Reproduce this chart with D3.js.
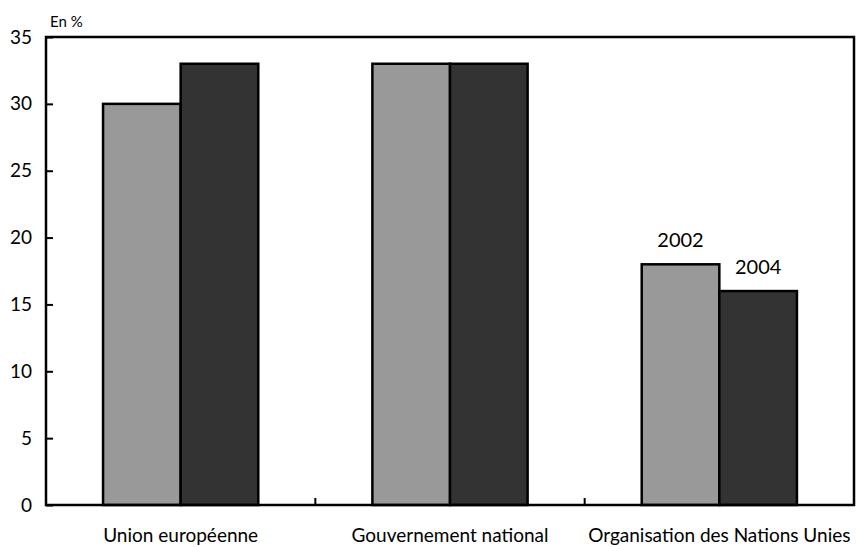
<!DOCTYPE html>
<html>
<head>
<meta charset="utf-8">
<script src="https://d3js.org/d3.v7.min.js"></script>
<style>
  body { margin: 0; background: #fff; }
  svg { font-family: Lato, "Open Sans", sans-serif; }
</style>
</head>
<body>
<svg id="chart" width="859" height="547"></svg>
<script>
const categories = ["Union européenne", "Gouvernement national", "Organisation des Nations Unies"];
const years = ["2002", "2004"];
const values2002 = [30, 33, 18];
const values2004 = [33, 33, 16];
const yTicks = [0, 5, 10, 15, 20, 25, 30, 35];

const colors = { "2002": "#999999", "2004": "#333333" };

const mLeft = 46, mRight = 854, mTop = 37, mBottom = 505;
const svg = d3.select("#chart");

const x0 = d3.scaleBand().domain(categories).range([mLeft, mRight]).padding(0);
const x1 = d3.scaleBand().domain(years).range([0, x0.bandwidth()]).paddingInner(0).paddingOuter(0.735);
const y = d3.scaleLinear().domain([0, 35]).range([mBottom, mTop]);

const rows = categories.map((c, i) => ({ cat: c, vals: [values2002[i], values2004[i]] }));

// bars
const groups = svg.selectAll("g.grp").data(rows).enter().append("g")
  .attr("class", "grp")
  .attr("transform", d => "translate(" + x0(d.cat) + ",0)");

groups.selectAll("rect")
  .data(d => years.map((yr, j) => ({ yr: yr, v: d.vals[j] })))
  .enter().append("rect")
  .attr("x", d => x1(d.yr))
  .attr("y", d => y(d.v))
  .attr("width", x1.bandwidth())
  .attr("height", d => y(0) - y(d.v))
  .attr("fill", d => colors[d.yr])
  .attr("stroke", "#000")
  .attr("stroke-width", 2.5);

// frame
svg.append("rect")
  .attr("x", mLeft).attr("y", mTop)
  .attr("width", mRight - mLeft).attr("height", mBottom - mTop)
  .attr("fill", "none").attr("stroke", "#000").attr("stroke-width", 2.5);

// y axis
const yAxis = d3.axisLeft(y).tickValues(yTicks).tickSize(-7).tickPadding(14);
svg.append("g")
  .attr("transform", "translate(" + mLeft + ",0)")
  .call(yAxis)
  .call(g => g.select(".domain").remove())
  .call(g => g.selectAll("line").attr("stroke-width", 2))
  .call(g => g.selectAll("text").attr("font-size", 19).attr("fill", "#000").attr("font-family", "Lato, sans-serif"));

// x axis: ticks between categories
const xAxis = d3.axisBottom(x0).tickSize(0).tickPadding(24);
svg.append("g")
  .attr("transform", "translate(0," + mBottom + ")")
  .call(xAxis)
  .call(g => g.select(".domain").remove())
  .call(g => g.selectAll("text").attr("font-size", 19).attr("fill", "#000").attr("font-family", "Lato, sans-serif"));

svg.append("g").selectAll("line")
  .data(categories.slice(1))
  .enter().append("line")
  .attr("x1", d => x0(d)).attr("x2", d => x0(d))
  .attr("y1", mBottom).attr("y2", mBottom - 7)
  .attr("stroke", "#000").attr("stroke-width", 2);

// year labels above the last group
const last = categories[categories.length - 1];
svg.append("g").selectAll("text")
  .data(years.map((yr, j) => ({ yr: yr, v: rows[rows.length - 1].vals[j] })))
  .enter().append("text")
  .attr("x", d => x0(last) + x1(d.yr) + x1.bandwidth() / 2)
  .attr("y", d => y(d.v) - 17)
  .attr("text-anchor", "middle")
  .attr("font-size", 20)
  .text(d => d.yr);

// unit label
svg.append("text")
  .attr("x", 50).attr("y", 27)
  .attr("font-size", 15)
  .text("En %");
</script>
</body>
</html>
